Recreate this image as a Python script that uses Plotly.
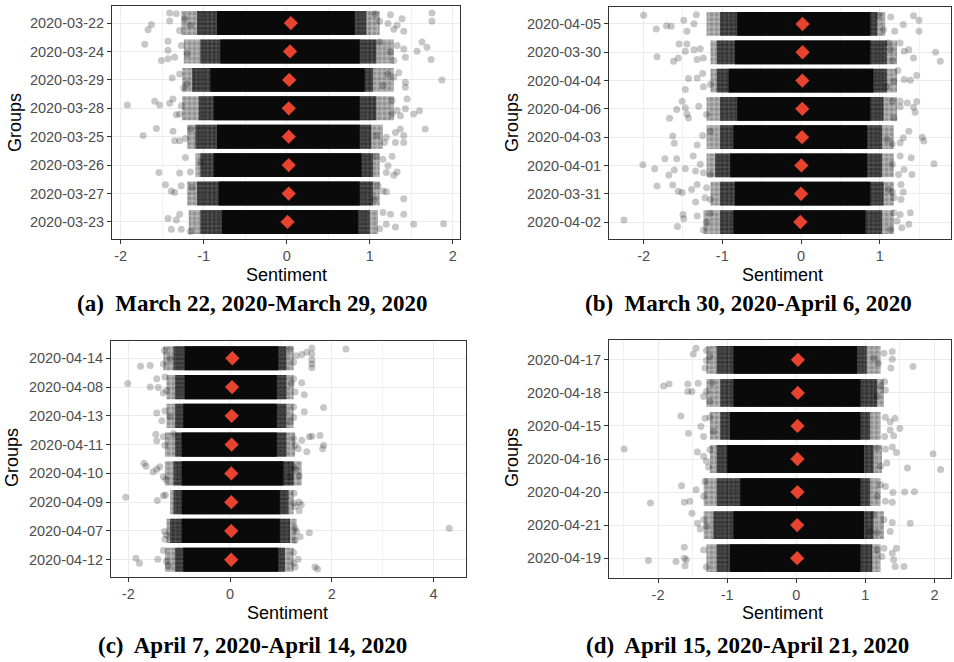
import plotly.graph_objects as go

# ---------------- Panel (a) March 22 - March 29 ----------------
a_groups = ["2020-03-22", "2020-03-24", "2020-03-29", "2020-03-28",
            "2020-03-25", "2020-03-26", "2020-03-27", "2020-03-23"]
a_means = [0.05, 0.04, 0.03, 0.025, 0.025, 0.024, 0.024, 0.01]
a_outer_lo = [-1.27, -1.24, -1.26, -1.26, -1.20, -1.10, -1.20, -1.18]
a_mid_lo = [-1.08, -1.04, -1.14, -1.06, -1.10, -1.04, -1.08, -1.04]
a_core_lo = [-0.84, -0.80, -0.92, -0.88, -0.84, -0.88, -0.82, -0.78]
a_core_hi = [0.82, 0.88, 0.94, 0.88, 0.88, 0.90, 0.88, 0.86]
a_mid_hi = [0.96, 1.08, 1.04, 1.08, 1.02, 1.04, 1.04, 1.00]
a_outer_hi = [1.12, 1.29, 1.29, 1.29, 1.16, 1.12, 1.12, 1.10]
# sparse points: (sentiment, vertical jitter in group units)
a_outliers = [
    [(-1.41, 0.35), (-1.33, 0.33), (-1.41, 0.07), (-1.63, -0.05), (-1.67, -0.24), (-1.29, -0.26),
     (-1.23, 0.15), (-1.16, -0.08), (1.06, 0.33), (1.12, 0.06), (1.25, 0.29), (1.22, -0.02),
     (1.33, -0.08), (1.39, 0.15), (1.29, -0.22), (1.41, -0.29), (1.75, 0.35), (1.75, 0.06)],
    [(-1.71, 0.25), (-1.43, 0.36), (-1.43, 0.04), (-1.51, -0.32), (-1.43, -0.26), (-1.35, -0.20),
     (-1.27, 0.21), (-1.20, -0.08), (1.12, 0.33), (1.25, -0.02), (1.33, 0.21), (1.41, 0.09),
     (1.43, -0.20), (1.57, 0.01), (1.63, 0.33), (1.69, 0.15), (1.74, -0.28), (1.29, -0.32)],
    [(-1.38, 0.07), (-1.29, 0.21), (-1.24, -0.29), (-1.20, -0.14), (1.22, 0.21), (1.35, 0.25),
     (1.29, 0.09), (1.43, -0.08), (1.43, -0.26), (1.87, 0.0), (1.16, -0.20)],
    [(-1.92, 0.12), (-1.59, 0.25), (-1.53, 0.12), (-1.41, 0.18), (-1.37, 0.33), (-1.29, -0.20),
     (-1.27, 0.09), (-1.33, -0.23), (1.27, 0.27), (1.33, -0.08), (1.43, -0.02), (1.45, 0.33),
     (1.37, -0.26), (1.60, -0.09), (1.53, -0.20), (1.27, -0.20)],
    [(-1.73, 0.04), (-1.57, 0.29), (-1.37, 0.19), (-1.35, -0.14), (-1.29, -0.14), (-1.22, -0.06),
     (-1.16, 0.27), (1.08, 0.04), (1.20, -0.02), (1.31, 0.15), (1.37, 0.27), (1.41, 0.04),
     (1.41, -0.20), (1.31, -0.20), (1.67, 0.27), (1.18, -0.20)],
    [(-1.54, -0.26), (-1.29, -0.28), (-1.22, 0.27), (-1.16, -0.24), (-1.04, 0.09), (1.08, 0.31),
     (1.16, 0.21), (1.27, 0.31), (1.22, -0.02), (1.20, -0.26), (1.33, -0.24), (1.29, -0.36)],
    [(-1.46, 0.31), (-1.39, 0.09), (-1.35, 0.04), (-1.27, 0.27), (-1.14, 0.21), (1.10, 0.27),
     (1.16, 0.09), (1.20, 0.06), (1.41, -0.18), (1.06, -0.20)],
    [(-1.43, 0.12), (-1.39, -0.26), (-1.29, 0.27), (-1.27, -0.26), (-1.16, -0.34), (-1.33, 0.07),
     (1.16, 0.33), (1.25, 0.27), (1.41, 0.27), (1.20, -0.08), (1.31, -0.18), (1.12, -0.24),
     (1.53, -0.08), (1.89, -0.06)],
]
a_xticks = [-2, -1, 0, 1, 2]
a_xminor = [-1.5, -0.5, 0.5, 1.5]
a_caption = "(a)\u00a0 March 22, 2020-March 29, 2020"

# ---------------- Panel (b) March 30 - April 6 ----------------
b_groups = ["2020-04-05", "2020-03-30", "2020-04-04", "2020-04-06",
            "2020-04-03", "2020-04-01", "2020-03-31", "2020-04-02"]
b_means = [0.02, 0.02, 0.017, 0.016, 0.013, 0.004, 0.0, -0.008]
b_outer_lo = [-1.20, -1.15, -1.15, -1.20, -1.20, -1.20, -1.15, -1.24]
b_mid_lo = [-1.03, -1.07, -1.07, -1.03, -1.03, -1.09, -1.03, -1.03]
b_core_lo = [-0.81, -0.84, -0.92, -0.81, -0.86, -0.90, -0.84, -0.86]
b_core_hi = [0.88, 0.88, 0.92, 0.88, 0.84, 0.84, 0.88, 0.82]
b_mid_hi = [0.97, 1.09, 1.09, 1.05, 1.03, 1.03, 1.05, 1.03]
b_outer_hi = [1.07, 1.22, 1.22, 1.22, 1.18, 1.18, 1.18, 1.18]
b_outliers = [
    [(-2.00, 0.31), (-1.84, -0.18), (-1.71, -0.06), (-1.65, -0.08), (-1.49, 0.13), (-1.45, -0.26),
     (-1.36, 0.01), (-1.33, 0.33), (0.99, 0.29), (1.14, 0.25), (1.19, -0.26), (1.30, -0.02),
     (1.43, 0.29), (1.50, 0.13), (1.50, -0.26), (1.05, -0.20)],
    [(-1.83, -0.16), (-1.62, -0.32), (-1.55, 0.29), (-1.56, -0.20), (-1.45, 0.29), (-1.47, 0.04),
     (-1.36, 0.09), (-1.32, -0.26), (-1.28, 0.12), (-1.24, -0.20), (1.14, 0.09), (1.16, -0.29),
     (1.26, 0.33), (1.31, 0.04), (1.37, 0.09), (1.43, -0.20), (1.71, 0.0), (1.77, -0.32),
     (1.11, 0.33)],
    [(-1.47, -0.32), (-1.43, 0.07), (-1.32, 0.09), (-1.25, 0.25), (-1.24, -0.22), (-1.15, -0.14),
     (1.23, 0.36), (1.18, -0.02), (1.31, 0.04), (1.39, 0.01), (1.47, 0.18), (1.09, -0.22)],
    [(-1.67, -0.33), (-1.58, -0.02), (-1.51, 0.27), (-1.47, 0.04), (-1.45, -0.18), (-1.43, -0.32),
     (-1.30, 0.09), (-1.20, -0.20), (1.16, 0.27), (1.26, 0.27), (1.26, 0.07), (1.35, 0.21),
     (1.43, 0.06), (1.45, -0.12), (1.47, 0.26), (1.18, -0.32)],
    [(-1.63, 0.04), (-1.61, -0.22), (-1.32, -0.28), (-1.25, 0.06), (-1.15, 0.21), (1.16, -0.24),
     (1.26, -0.20), (1.30, -0.02), (1.37, 0.21), (1.54, 0.0), (1.56, -0.14), (1.09, -0.08)],
    [(-2.01, 0.02), (-1.86, -0.12), (-1.73, 0.24), (-1.68, -0.34), (-1.61, -0.16), (-1.58, 0.24),
     (-1.47, -0.12), (-1.37, 0.33), (-1.34, -0.20), (-1.24, -0.26), (-1.28, 0.04), (-1.15, -0.32),
     (1.16, 0.04), (1.26, 0.33), (1.31, -0.14), (1.40, 0.27), (1.41, -0.32), (1.69, 0.06),
     (1.24, -0.32)],
    [(-1.83, 0.27), (-1.63, 0.31), (-1.56, 0.09), (-1.51, 0.04), (-1.39, 0.15), (-1.34, -0.29),
     (-1.32, 0.33), (-1.20, 0.21), (-1.15, -0.20), (-1.22, -0.14), (1.11, 0.15), (1.16, 0.06),
     (1.27, 0.33), (1.30, 0.06), (1.27, -0.20), (1.18, -0.14)],
    [(-2.25, 0.07), (-1.57, -0.16), (-1.50, 0.27), (-1.49, 0.12), (-1.32, 0.21), (-1.24, -0.28),
     (-1.20, -0.02), (-1.15, 0.31), (1.18, 0.33), (1.26, 0.27), (1.39, 0.33), (1.37, -0.08),
     (1.22, 0.04), (1.28, -0.20), (1.14, -0.26)],
]
b_xticks = [-2, -1, 0, 1]
b_xminor = [-1.5, -0.5, 0.5, 1.5]
b_caption = "(b)\u00a0 March 30, 2020-April 6, 2020"

# ---------------- Panel (c) April 7 - April 14 ----------------
c_groups = ["2020-04-14", "2020-04-08", "2020-04-13", "2020-04-11",
            "2020-04-10", "2020-04-09", "2020-04-07", "2020-04-12"]
c_means = [0.046, 0.04, 0.033, 0.032, 0.026, 0.025, 0.024, 0.023]
c_outer_lo = [-1.31, -1.25, -1.25, -1.28, -1.28, -1.18, -1.25, -1.28]
c_mid_lo = [-1.11, -1.08, -1.08, -1.08, -1.11, -1.11, -1.18, -1.08]
c_core_lo = [-0.89, -0.89, -0.92, -0.95, -0.95, -0.95, -0.95, -0.92]
c_core_hi = [0.95, 0.92, 0.92, 0.92, 1.05, 0.98, 0.98, 0.95]
c_mid_hi = [1.11, 1.11, 1.11, 1.11, 1.25, 1.15, 1.18, 1.08]
c_outer_hi = [1.25, 1.25, 1.25, 1.28, 1.41, 1.25, 1.31, 1.25]
c_outliers = [
    [(-1.76, -0.28), (-1.57, -0.25), (-1.29, 0.27), (-1.31, -0.20), (-1.18, -0.02), (1.18, 0.32),
     (1.25, -0.14), (1.41, 0.13), (1.51, 0.21), (1.61, 0.36), (1.61, 0.15), (1.61, -0.06),
     (1.61, -0.20), (1.61, -0.33), (2.28, 0.32), (1.30, 0.09)],
    [(-2.01, 0.12), (-1.57, 0.0), (-1.44, 0.29), (-1.41, -0.02), (-1.28, 0.35), (-1.31, -0.21),
     (-1.25, -0.12), (1.25, 0.29), (1.28, -0.17), (1.41, 0.15), (1.46, -0.27), (1.21, 0.12)],
    [(-1.44, 0.10), (-1.34, -0.17), (-1.28, 0.17), (-1.18, -0.03), (1.25, 0.31), (1.25, -0.06),
     (1.46, 0.14), (1.84, 0.29), (1.18, -0.21)],
    [(-1.46, 0.36), (-1.44, 0.13), (-1.31, 0.27), (-1.28, -0.02), (-1.11, 0.38), (1.25, 0.21),
     (1.34, -0.14), (1.41, 0.15), (1.51, -0.25), (1.56, 0.27), (1.61, 0.29), (1.77, 0.32),
     (1.84, -0.02), (1.82, -0.14), (1.28, -0.02)],
    [(-1.69, 0.35), (-1.65, 0.25), (-1.51, 0.06), (-1.44, 0.14), (-1.31, -0.12), (-1.26, -0.21),
     (-1.38, 0.23), (1.28, 0.14), (1.36, -0.09), (1.18, -0.12), (1.25, 0.21)],
    [(-2.05, 0.17), (-1.43, 0.06), (-1.31, 0.22), (-1.27, 0.25), (1.26, 0.31), (1.25, -0.03),
     (1.36, 0.0), (1.40, -0.09), (1.36, -0.30), (1.28, -0.15)],
    [(-1.29, -0.02), (-1.28, -0.29), (-1.25, -0.14), (1.28, 0.09), (1.31, -0.02), (1.28, -0.33),
     (1.38, -0.20), (1.56, -0.06), (4.31, 0.09)],
    [(-1.85, 0.05), (-1.78, -0.12), (-1.42, 0.02), (-1.31, 0.32), (-1.25, -0.05), (-1.21, -0.21),
     (1.25, 0.25), (1.25, -0.12), (1.34, 0.02), (1.28, -0.25), (1.67, -0.25), (1.72, -0.32)],
]
c_xticks = [-2, 0, 2, 4]
c_xminor = [-1, 1, 3]
c_caption = "(c)\u00a0 April 7, 2020-April 14, 2020"

# ---------------- Panel (d) April 15 - April 21 ----------------
d_groups = ["2020-04-17", "2020-04-18", "2020-04-15", "2020-04-16",
            "2020-04-20", "2020-04-21", "2020-04-19"]
d_means = [0.024, 0.023, 0.019, 0.018, 0.018, 0.014, 0.013]
d_outer_lo = [-1.30, -1.30, -1.25, -1.25, -1.34, -1.34, -1.30]
d_mid_lo = [-1.15, -1.10, -1.10, -1.15, -1.15, -1.20, -1.15]
d_core_lo = [-0.91, -0.91, -0.96, -1.00, -0.81, -0.91, -0.96]
d_core_hi = [0.88, 0.93, 0.93, 0.98, 0.93, 0.98, 0.93]
d_mid_hi = [1.02, 1.17, 1.07, 1.12, 1.07, 1.12, 1.10]
d_outer_hi = [1.22, 1.27, 1.22, 1.24, 1.22, 1.27, 1.22]
d_outliers = [
    [(-1.49, 0.18), (-1.45, 0.35), (-1.30, 0.28), (-1.30, -0.02), (-1.25, 0.10), (-1.32, -0.25),
     (1.27, 0.20), (1.39, 0.25), (1.39, 0.02), (1.37, -0.25), (1.69, -0.20), (1.19, -0.10),
     (1.12, 0.05)],
    [(-1.92, 0.21), (-1.84, 0.27), (-1.57, 0.27), (-1.57, 0.04), (-1.51, 0.04), (-1.42, 0.29),
     (-1.34, -0.11), (-1.25, -0.26), (-1.22, 0.31), (-1.30, 0.04), (1.28, 0.34), (1.29, 0.09),
     (1.17, -0.11), (1.22, 0.19)],
    [(-1.67, 0.30), (-1.56, -0.22), (-1.32, 0.23), (-1.38, -0.02), (-1.34, -0.32), (-1.20, -0.17),
     (-1.25, 0.26), (1.29, 0.26), (1.36, 0.13), (1.43, 0.23), (1.50, -0.08), (1.41, -0.30),
     (1.28, -0.32), (1.36, -0.12)],
    [(-2.49, 0.30), (-1.43, 0.21), (-1.34, 0.08), (-1.27, -0.24), (-1.30, -0.07), (-1.25, 0.28),
     (1.17, 0.33), (1.29, 0.30), (1.39, 0.36), (1.45, 0.20), (1.22, -0.22), (1.31, -0.12),
     (1.98, 0.16), (1.61, -0.27), (2.09, -0.32)],
    [(-2.11, -0.33), (-1.66, 0.19), (-1.62, -0.31), (-1.54, -0.28), (-1.45, 0.07), (-1.34, -0.13),
     (-1.32, 0.32), (1.22, 0.22), (1.29, 0.17), (1.40, -0.01), (1.57, 0.0), (1.71, 0.01),
     (1.29, -0.28), (1.39, -0.31), (1.17, -0.13)],
    [(-1.51, 0.36), (-1.43, 0.06), (-1.39, -0.12), (-1.34, 0.16), (-1.30, -0.04), (1.12, 0.31),
     (1.27, 0.16), (1.39, 0.08), (1.36, -0.19), (1.65, 0.06), (1.17, -0.22), (1.07, -0.19)],
    [(-2.14, -0.07), (-1.74, -0.10), (-1.62, 0.33), (-1.62, 0.0), (-1.61, -0.23), (-1.59, -0.05),
     (-1.34, 0.25), (-1.30, -0.27), (1.17, 0.25), (1.27, 0.30), (1.39, 0.15), (1.45, 0.30),
     (1.41, -0.05), (1.43, -0.25), (1.56, -0.25), (1.24, 0.05)],
]
d_xticks = [-2, -1, 0, 1, 2]
d_xminor = [-2.5, -1.5, -0.5, 0.5, 1.5]
d_caption = "(d)\u00a0 April 15, 2020-April 21, 2020"

# ---------------- layout geometry (pixels in a 954x662 page) ----------------
W, H = 954, 662
panels = [
    dict(groups=a_groups, means=a_means, olo=a_outer_lo, mlo=a_mid_lo, clo=a_core_lo,
         chi=a_core_hi, mhi=a_mid_hi, ohi=a_outer_hi, pts=a_outliers, ticks=a_xticks,
         minor=a_xminor, cap=a_caption, box=(112, 460, 6, 239), xr=(-2.105, 2.088)),
    dict(groups=b_groups, means=b_means, olo=b_outer_lo, mlo=b_mid_lo, clo=b_core_lo,
         chi=b_core_hi, mhi=b_mid_hi, ohi=b_outer_hi, pts=b_outliers, ticks=b_xticks,
         minor=b_xminor, cap=b_caption, box=(609, 951, 7, 239), xr=(-2.44, 1.906)),
    dict(groups=c_groups, means=c_means, olo=c_outer_lo, mlo=c_mid_lo, clo=c_core_lo,
         chi=c_core_hi, mhi=c_mid_hi, ohi=c_outer_hi, pts=c_outliers, ticks=c_xticks,
         minor=c_xminor, cap=c_caption, box=(111, 466, 341, 577), xr=(-2.34, 4.64)),
    dict(groups=d_groups, means=d_means, olo=d_outer_lo, mlo=d_mid_lo, clo=d_core_lo,
         chi=d_core_hi, mhi=d_mid_hi, ohi=d_outer_hi, pts=d_outliers, ticks=d_xticks,
         minor=d_xminor, cap=d_caption, box=(609, 951, 340, 578), xr=(-2.71, 2.24)),
]
xtitle_pos = [(286, 275), (782, 275), (287, 613), (782, 613)]
ytitle_pos = [(15, 123), (512, 123), (12, 458), (512, 458)]
cap_pos = [(252, 303), (748, 303), (252, 645), (747, 645)]

SANS = "Arial, 'Liberation Sans', Helvetica, sans-serif"
SERIF = "'Times New Roman', 'Liberation Serif', Times, serif"
TICKFONT = dict(family=SANS, size=14.5, color="#4d4d4d")

fig = go.Figure()
layout = dict(width=W, height=H, margin=dict(l=0, r=0, t=0, b=0),
              paper_bgcolor="white", plot_bgcolor="white", showlegend=False,
              barmode="overlay", annotations=[])

band_styles = [
    # outer fringe: scattered overlapping points -> light grey with texture
    dict(marker=dict(color="rgba(0,0,0,0.30)", line=dict(width=0),
                     pattern=dict(shape=".", fgcolor="rgba(0,0,0,0.35)",
                                  size=5, solidity=0.45, fillmode="overlay"))),
    # mid fringe: dense overlapping points -> dark grey with texture
    dict(marker=dict(color="rgba(0,0,0,0.55)", line=dict(width=0),
                     pattern=dict(shape=".", fgcolor="rgba(0,0,0,0.55)",
                                  size=4, solidity=0.5, fillmode="overlay"))),
    # solid core
    dict(marker=dict(color="#0a0a0a", line=dict(width=0))),
]

for i, p in enumerate(panels):
    s = "" if i == 0 else str(i + 1)
    xa, ya = "x" + s, "y" + s
    n = len(p["groups"])
    pos = [n - k for k in range(n)]
    for (lo, hi), st in zip([(p["olo"], p["ohi"]), (p["mlo"], p["mhi"]), (p["clo"], p["chi"])],
                            band_styles):
        fig.add_trace(go.Bar(orientation="h", y=pos, base=lo,
                             x=[h - l for l, h in zip(lo, hi)], width=0.84,
                             xaxis=xa, yaxis=ya, hoverinfo="skip", **st))
    # sparse jittered points
    px, py = [], []
    for k, grp in enumerate(p["pts"]):
        for xv, dy in grp:
            px.append(xv)
            py.append(pos[k] + dy)
    fig.add_trace(go.Scatter(x=px, y=py, mode="markers",
                             marker=dict(size=7, color="rgba(0,0,0,0.22)", line=dict(width=0)),
                             xaxis=xa, yaxis=ya, hoverinfo="skip"))
    # group means
    fig.add_trace(go.Scatter(x=p["means"], y=pos, mode="markers",
                             marker=dict(symbol="diamond", size=11, color="#e8432f",
                                         line=dict(width=0)),
                             xaxis=xa, yaxis=ya, hoverinfo="skip"))

    x0, x1, y0, y1 = p["box"]
    common = dict(showline=True, linecolor="#333333", linewidth=1, mirror=True,
                  ticks="outside", ticklen=4, tickcolor="#333333", tickwidth=1,
                  tickfont=TICKFONT, zeroline=False, showgrid=True,
                  gridcolor="#ebebeb", gridwidth=1.1)
    layout["xaxis" + s] = dict(common, domain=[x0 / W, x1 / W], range=list(p["xr"]),
                               anchor=ya, tickmode="array", tickvals=p["ticks"],
                               ticktext=[str(t) for t in p["ticks"]],
                               minor=dict(tickvals=p["minor"], showgrid=True,
                                          gridcolor="#f2f2f2", gridwidth=0.6, ticks=""))
    layout["yaxis" + s] = dict(common, domain=[1 - y1 / H, 1 - y0 / H],
                               range=[0.4, n + 0.6], anchor=xa, tickmode="array",
                               tickvals=pos, ticktext=p["groups"])
    xt, yt = xtitle_pos[i]
    layout["annotations"].append(dict(text="Sentiment", x=xt / W, y=1 - yt / H,
                                      xref="paper", yref="paper", showarrow=False,
                                      xanchor="center", yanchor="middle",
                                      font=dict(family=SANS, size=18, color="black")))
    gx, gy = ytitle_pos[i]
    layout["annotations"].append(dict(text="Groups", x=gx / W, y=1 - gy / H,
                                      xref="paper", yref="paper", showarrow=False,
                                      textangle=-90, xanchor="center", yanchor="middle",
                                      font=dict(family=SANS, size=18, color="black")))
    cx, cy = cap_pos[i]
    layout["annotations"].append(dict(text="<b>" + p["cap"] + "</b>", x=cx / W, y=1 - cy / H,
                                      xref="paper", yref="paper", showarrow=False,
                                      xanchor="center", yanchor="middle",
                                      font=dict(family=SERIF, size=23, color="black")))

fig.update_layout(**layout)
fig.write_html("out.html", config={"displayModeBar": False},
               post_script="document.body.style.margin='0';document.body.style.overflow='hidden';")
